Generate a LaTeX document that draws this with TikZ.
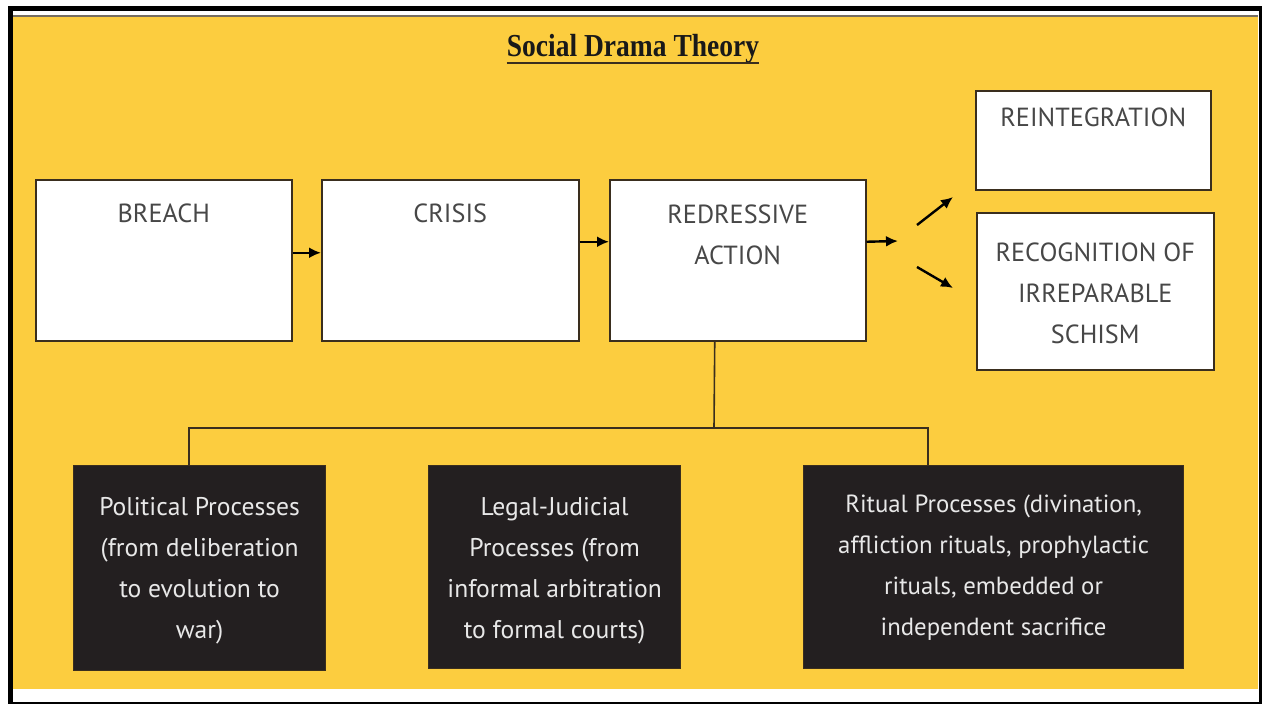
\documentclass[tikz,border=0pt]{standalone}
\usepackage{fontspec}
\setmainfont{PT Sans}
\newfontfamily\titlefont{Liberation Serif}
\usetikzlibrary{arrows.meta}
\definecolor{bgyellow}{HTML}{FCCD3F}
\definecolor{boxdark}{HTML}{231F20}
\definecolor{edgec}{HTML}{3A2E1E}
\definecolor{greytext}{HTML}{474747}
\definecolor{lighttext}{HTML}{E8E8E8}
\begin{document}
\begin{tikzpicture}[x=1pt,y=-1pt,
  whitebox/.style={draw=edgec, line width=1.5pt, fill=white, inner sep=0pt, anchor=north west, rectangle},
  darkbox/.style={draw=edgec, line width=1.2pt, fill=boxdark, inner sep=0pt, anchor=north west, rectangle},
  btext/.style={inner sep=0pt, anchor=base, align=center, text=greytext, font=\fontsize{26.2}{41}\selectfont},
  dtext/.style={inner sep=0pt, anchor=base, align=center, text=lighttext, font=\fontsize{25.6}{41}\selectfont},
  conn/.style={draw=edgec, line width=1.6pt},
  arr/.style={draw=black, line width=2.4pt, -{Latex[length=12pt,width=11pt]}}
]
\useasboundingbox (0,0) rectangle (1262,704);
\fill[white] (0,0) rectangle (1262,704);
% frame
\fill[black] (8,6) rectangle (1262,704);
\fill[white] (13,11) rectangle (1259,702);
\fill[edgec!70] (13,15) rectangle (1258,17);
\fill[bgyellow] (13,17) rectangle (1258,689);

% title
\node[inner sep=0pt, anchor=base, font=\titlefont\bfseries\fontsize{32}{32}\selectfont, text=black!90] (title) at (633,56) {\scalebox{0.86}[1]{Social Drama Theory}};
\draw[line width=2.8pt, edgec] ([yshift=-7pt]title.base west) -- ([yshift=-7pt]title.base east);

% top boxes
\node[whitebox, minimum width=256pt, minimum height=161pt] (breach) at (35,179) {};
\node[whitebox, minimum width=257pt, minimum height=161pt] (crisis) at (321,179) {};
\node[whitebox, minimum width=256pt, minimum height=161pt] (redress) at (609,179) {};
\node[whitebox, minimum width=235pt, minimum height=99pt] (reint) at (975,90) {};
\node[whitebox, minimum width=237pt, minimum height=157pt] (recog) at (976,212) {};

\node[btext] (breachT) at (breach.center |- 0,222) {BREACH};
\node[btext] (crisisT) at (crisis.center |- 0,222) {CRISIS};
\node[btext] (redressT) at (redress.center |- 0,264) {REDRESSIVE\\ACTION};
\node[btext] (reintT) at (reint.center |- 0,126) {REINTEGRATION};
\node[btext] (recogT) at (recog.center |- 0,343) {RECOGNITION OF\\IRREPARABLE\\SCHISM};

% bottom boxes
\node[darkbox, minimum width=252pt, minimum height=205pt] (pol) at (73,465) {};
\node[darkbox, minimum width=252pt, minimum height=203pt] (leg) at (428,465) {};
\node[darkbox, minimum width=380pt, minimum height=203pt] (rit) at (803,465) {};

\node[dtext] (polT) at (pol.center |- 0,638) {Political Processes\\(from deliberation\\to evolution to\\war)};
\node[dtext] (legT) at (leg.center |- 0,638) {Legal-Judicial\\Processes (from\\informal arbitration\\to formal courts)};
\node[dtext, font=\fontsize{24.8}{41}\selectfont] (ritT) at (rit.center |- 0,635) {Ritual Processes (divination,\\affliction rituals, prophylactic\\rituals, embedded or\\independent sacrifice};

% arrows
\draw[arr] ([yshift=7.5pt]breach.east) -- ([yshift=7.5pt]crisis.west);
\draw[arr] ([yshift=18.5pt]crisis.east) -- ([yshift=18.5pt]redress.west);
\coordinate (fork) at (898,241);
\draw[arr] ([yshift=18.5pt]redress.east) -- (fork);
\coordinate (upS) at (917,225);
\coordinate (upE) at (953,197);
\coordinate (dnS) at (917,267);
\coordinate (dnE) at (953,288);
\draw[arr] (upS) -- (upE);
\draw[arr] (dnS) -- (dnE);

% tree
\coordinate (hub) at (714,428);
\draw[conn] ([xshift=-23pt]redress.south) -- (hub);
\draw[conn] (pol.north -| 189,0) |- (hub) -| (rit.north -| 928,0);
\draw[conn] (leg.north -| 550,0) -- (leg.north -| 550,0 |- hub);
\end{tikzpicture}
\end{document}
